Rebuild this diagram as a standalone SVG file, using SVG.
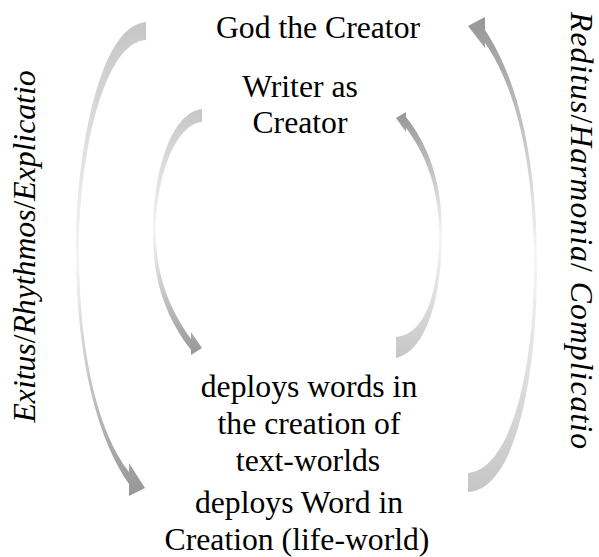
<svg xmlns="http://www.w3.org/2000/svg" width="599" height="557" viewBox="0 0 599 557">
<style>
text{font-family:"Liberation Serif","Times New Roman","DejaVu Serif",serif;font-size:31.7px;fill:#000;text-anchor:middle}
.it{font-style:italic}
.up{font-style:normal}
</style>
<defs>
<linearGradient id="gDown" x1="0" y1="0" x2="0" y2="1">
<stop offset="0" stop-color="#c6c6c6"/>
<stop offset="0.5" stop-color="#f6f6f6"/>
<stop offset="1" stop-color="#969696"/>
</linearGradient>
<linearGradient id="gUp" x1="0" y1="0" x2="0" y2="1">
<stop offset="0" stop-color="#969696"/>
<stop offset="0.5" stop-color="#f6f6f6"/>
<stop offset="1" stop-color="#c6c6c6"/>
</linearGradient>
</defs>
<rect width="599" height="557" fill="#fff"/>
<g id="connectors">
<path id="outer-left" fill="url(#gDown)" d="M146,22 C100,25 76,150 76,250 C76,360 98,440 129,484 L129,496 L145,488 L129,463 L129,472 C100,435 79,360 79,250 C79,150 105,42 146,40 Z"/>
<path id="outer-right" fill="url(#gUp)" d="M468,492 C515,490 537,380 537,265 C537,150 515,75 485,30 L485,17 L468,26 L485,48 L485,43 C512,82 534,150 534,265 C534,380 508,470 468,473 Z"/>
<path id="inner-left" fill="url(#gDown)" d="M202,109 C172,112 153,170 153,233 C153,285 168,320 191,350 L191,355 L202,348 L191,332 L191,339 C172,312 156,280 156,233 C156,175 176,124 202,122 Z"/>
<path id="inner-right" fill="url(#gUp)" d="M396,358 C425,352 442,300 442,233 C442,180 428,145 406,117 L406,112 L396,118 L406,132 L406,128 C424,152 439,185 439,233 C439,295 424,335 396,337 Z"/>
</g>
<g id="god"><text x="318" y="38">God the Creator</text></g>
<g id="writer"><text x="300" y="97">Writer as</text><text x="300" y="133">Creator</text></g>
<g id="words"><text x="309" y="397">deploys words in</text><text x="309" y="434">the creation of</text><text x="308" y="471">text-worlds</text></g>
<g id="word"><text x="299" y="513">deploys Word in</text><text x="297" y="550">Creation (life-world)</text></g>
<g id="exitus"><text class="it" transform="translate(35,246.5) rotate(-90)">Exitus<tspan class="up">/</tspan>Rhythmos<tspan class="up">/</tspan>Explicatio</text></g>
<g id="reditus"><text class="it" transform="translate(570.5,230.5) rotate(90)" textLength="437" lengthAdjust="spacing">Reditus<tspan class="up">/</tspan>Harmonia<tspan class="up">/</tspan> Complicatio</text></g>
</svg>
